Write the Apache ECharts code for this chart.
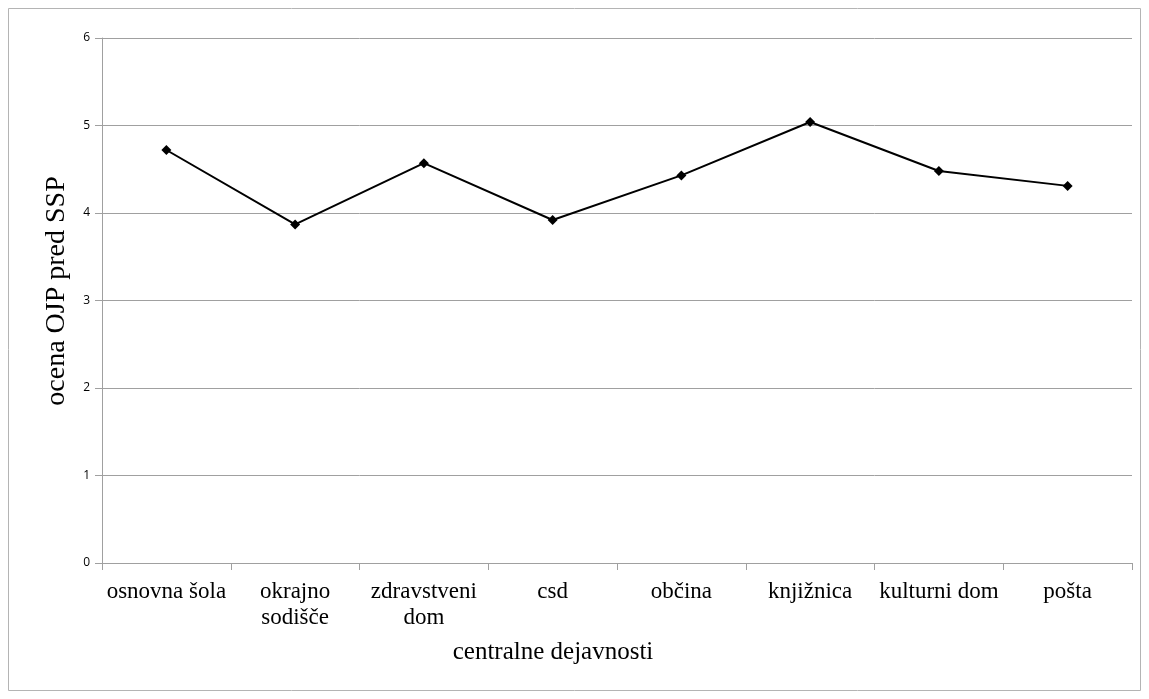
<!DOCTYPE html>
<html><head><meta charset="utf-8">
<script src="https://cdn.jsdelivr.net/npm/echarts@6/dist/echarts.min.js"></script>
<style>html,body{margin:0;padding:0;background:#fff}#c{width:1149px;height:699px}</style>
</head><body><div id="c"></div>
<script>
const categories = ['osnovna šola', 'okrajno\nsodišče', 'zdravstveni\ndom', 'csd', 'občina', 'knjižnica', 'kulturni dom', 'pošta'];
const values = [4.72, 3.87, 4.57, 3.92, 4.43, 5.04, 4.48, 4.31];
const yTicks = [0, 1, 2, 3, 4, 5, 6];
const xTitle = 'centralne dejavnosti';
const yTitle = 'ocena OJP pred SSP';

const chart = echarts.init(document.getElementById('c'), null, {renderer: 'canvas'});
const gray = '#a0a0a0';
chart.setOption({
  animation: false,
  backgroundColor: '#fff',
  grid: {left: 102, right: 17, top: 38, bottom: 136},
  graphic: [
    {type: 'rect', shape: {x: 8.5, y: 8.5, width: 1132, height: 682}, style: {fill: 'none', stroke: '#b4b4b4', lineWidth: 1}, z: -1},
    {type: 'text', x: 553, y: 652, style: {text: xTitle, font: '25px "Liberation Serif"', fill: '#000', textAlign: 'center', textVerticalAlign: 'middle'}},
    {type: 'text', x: 57, y: 291, rotation: Math.PI / 2, style: {text: yTitle, font: '28px "Liberation Serif"', fill: '#000', textAlign: 'center', textVerticalAlign: 'middle'}}
  ],
  xAxis: {
    type: 'category',
    data: categories,
    boundaryGap: true,
    axisLine: {lineStyle: {color: gray, width: 1}},
    axisTick: {show: true, length: 7, alignWithLabel: false, lineStyle: {color: gray}},
    axisLabel: {color: '#000', fontFamily: 'Liberation Serif', fontSize: 23, lineHeight: 26, margin: 16, interval: 0},
    splitLine: {show: false}
  },
  yAxis: {
    type: 'value',
    min: yTicks[0], max: yTicks[yTicks.length - 1], interval: 1,
    axisLine: {show: true, lineStyle: {color: gray, width: 1}},
    axisTick: {show: true, length: 7, inside: false, lineStyle: {color: gray}},
    axisLabel: {color: '#000', fontFamily: 'Open Sans', fontSize: 12, margin: 12},
    splitLine: {show: true, lineStyle: {color: gray, width: 1}}
  },
  series: [{
    type: 'line',
    data: values,
    symbol: 'diamond',
    symbolSize: 10,
    lineStyle: {color: '#000', width: 2},
    itemStyle: {color: '#000'},
    z: 5
  }]
});
</script></body></html>
